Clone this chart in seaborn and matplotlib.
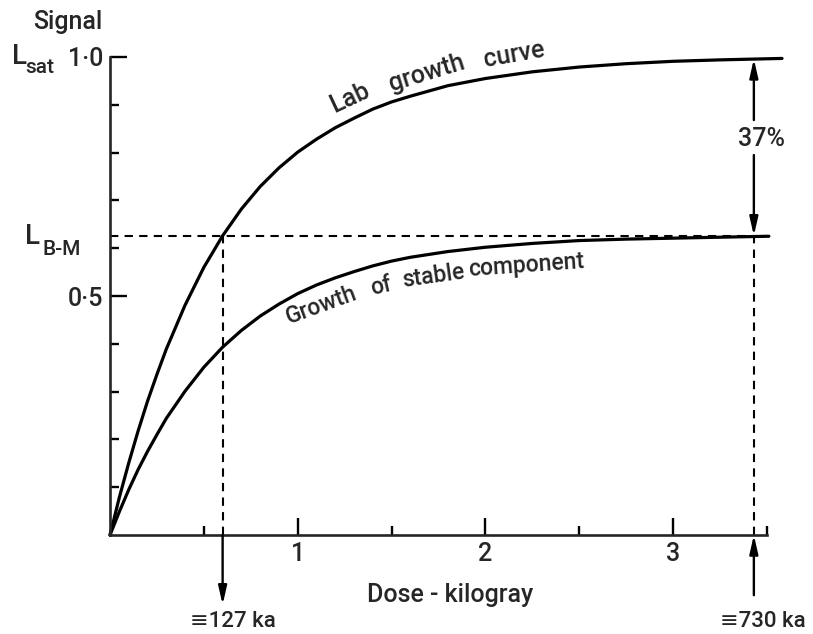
import numpy as np
import pandas as pd
import matplotlib
matplotlib.use("Agg")
import matplotlib.pyplot as plt
from matplotlib.ticker import FixedLocator
import seaborn as sns

# values
dose_lab = [0, 0.05, 0.1, 0.15, 0.2, 0.25, 0.3, 0.4, 0.5, 0.6, 0.7, 0.8, 0.9,
            1.0, 1.1, 1.2, 1.3, 1.4, 1.5, 1.6, 1.8, 2.0, 2.25, 2.5, 2.75, 3.0,
            3.25, 3.58]
signal_lab = [0, 0.079, 0.151, 0.218, 0.280, 0.336, 0.389, 0.481, 0.560, 0.626,
              0.682, 0.729, 0.768, 0.801, 0.828, 0.852, 0.872, 0.891, 0.906,
              0.918, 0.940, 0.955, 0.969, 0.979, 0.986, 0.991, 0.994, 0.997]
dose_stable = [0, 0.05, 0.1, 0.15, 0.2, 0.25, 0.3, 0.4, 0.5, 0.6, 0.7, 0.8,
               0.9, 1.0, 1.1, 1.2, 1.3, 1.4, 1.5, 1.6, 1.8, 2.0, 2.25, 2.5,
               2.75, 3.0, 3.25, 3.51]
signal_stable = [0, 0.049, 0.095, 0.137, 0.175, 0.210, 0.244, 0.301, 0.351,
                 0.393, 0.428, 0.458, 0.483, 0.505, 0.523, 0.538, 0.551, 0.563,
                 0.573, 0.581, 0.593, 0.602, 0.610, 0.616, 0.619, 0.621, 0.623,
                 0.625]

L_sat = 1.0
L_bm = 0.626
dose_bm = 0.60       # lab dose giving L_B-M
dose_end = 3.43      # marker on the right
x_ticks = [1, 2, 3]
x_ticklabels = ["1", "2", "3"]
y_ticks = [0.5, 1.0]
y_ticklabels = ["0·5", "1·0"]
age_labels = ["≡127 ka", "≡730 ka"]

sns.set_style("ticks")
plt.rcParams["font.family"] = ["Roboto", "DejaVu Sans"]
plt.rcParams["font.weight"] = "medium"
fs = 18

fig = plt.figure(figsize=(8.13, 6.34), dpi=100)
ax = fig.add_axes([110 / 813, 99 / 634, 657 / 813, 478 / 634])

lab = pd.DataFrame({"dose": dose_lab, "signal": signal_lab})
stable = pd.DataFrame({"dose": dose_stable, "signal": signal_stable})
sns.lineplot(data=lab, x="dose", y="signal", ax=ax, color="black", lw=2.3,
             clip_on=False)
sns.lineplot(data=stable, x="dose", y="signal", ax=ax, color="black", lw=2.3,
             clip_on=False)

ax.set_xlim(0, 3.5)
ax.set_ylim(0, 1.0)
sns.despine(ax=ax)
for s in ["left", "bottom"]:
    ax.spines[s].set_linewidth(1.9)

# dashed guides
dash = dict(color="black", lw=1.5, linestyle=(0, (4, 3)))
ax.plot([0, dose_end], [L_bm, L_bm], **dash)
ax.plot([dose_bm, dose_bm], [0, L_bm], **dash)
ax.plot([dose_end, dose_end], [0, L_bm], **dash)

# ticks
ax.xaxis.set_major_locator(FixedLocator(x_ticks))
ax.set_xticklabels(x_ticklabels)
ax.xaxis.set_minor_locator(FixedLocator([0.5, 1.5, 2.5, 3.5]))
ax.yaxis.set_major_locator(FixedLocator(y_ticks))
ax.set_yticklabels(y_ticklabels)
ax.yaxis.set_minor_locator(FixedLocator([0.1, 0.2, 0.3, 0.4, 0.6, 0.7, 0.8, 0.9]))
ax.tick_params(which="major", direction="in", length=12, width=1.7,
               labelsize=fs, pad=5, color="black")
ax.tick_params(which="minor", direction="in", length=6.5, width=1.7,
               color="black")
ax.set_xlabel("")
ax.set_ylabel("")

# axis titles
ax.text(1.81, -0.125, "Dose - kilogray", fontsize=fs, ha="center", va="center")
ax.text(-0.223, 1.073, "Signal", fontsize=fs, ha="center", va="center",
        clip_on=False)
ax.text(-0.484, 1.0, "L", fontsize=fs + 2, ha="center", va="center")
ax.text(-0.372, 0.979, "sat", fontsize=fs - 3, ha="center", va="center")
ax.text(-0.415, 0.625, "L", fontsize=fs + 2, ha="center", va="center")
ax.text(-0.255, 0.598, "B-M", fontsize=fs - 3, ha="center", va="center")

# curve labels, word by word so they follow the bend
for word, x, y, rot in [("Lab", 1.277, 0.914, 25), ("growth", 1.690, 0.967, 17),
                        ("curve", 2.154, 1.004, 10)]:
    ax.text(x, y, word, fontsize=18, rotation=rot, ha="center",
            va="center", rotation_mode="anchor")
for word, x, y, rot in [("Growth", 1.128, 0.480, 20), ("of", 1.441, 0.520, 13),
                        ("stable", 1.723, 0.541, 8),
                        ("component", 2.218, 0.563, 4)]:
    ax.text(x, y, word, fontsize=16.5, rotation=rot, ha="center",
            va="center", rotation_mode="anchor")

# arrows
arr = dict(arrowstyle="-|>,head_length=1.1,head_width=0.25", color="black",
           lw=1.7, shrinkA=0, shrinkB=0)
ax.annotate("", xy=(dose_bm, -0.146), xytext=(dose_bm, 0), arrowprops=arr,
            annotation_clip=False)
ax.annotate("", xy=(dose_end, 0), xytext=(dose_end, -0.126), arrowprops=arr,
            annotation_clip=False)
ax.annotate("", xy=(dose_end, L_sat - 0.004), xytext=(dose_end, 0.868),
            arrowprops=arr, annotation_clip=False)
ax.annotate("", xy=(dose_end, L_bm), xytext=(dose_end, 0.795),
            arrowprops=arr, annotation_clip=False)
ax.text(3.47, 0.828, "37%", fontsize=fs, ha="center", va="center")

ax.text(0.654, -0.182, age_labels[0], fontsize=fs - 2, ha="center", va="center")
ax.text(3.479, -0.182, age_labels[1], fontsize=fs - 2, ha="center", va="center")

fig.savefig("out.png", dpi=100, facecolor="white")
